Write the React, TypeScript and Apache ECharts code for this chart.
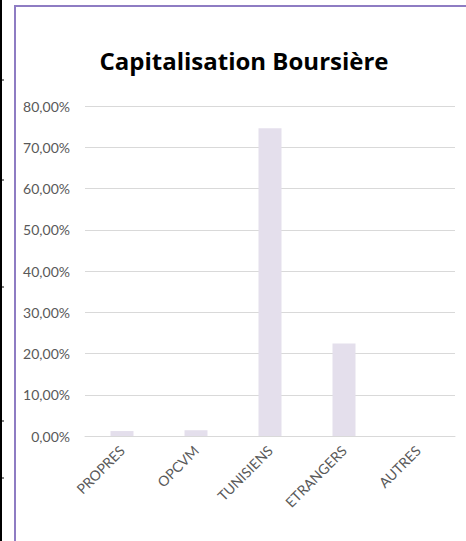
import React, { useEffect, useRef } from "react";
import * as echarts from "echarts";

const categories = ["PROPRES", "OPCVM", "TUNISIENS", "ETRANGERS", "AUTRES"];
const values = [0.012, 0.014, 0.746, 0.224, 0.0];
const titleText = "Capitalisation Boursière";
const leftTicksY = [80, 180, 287, 421, 478];

const FONT = "Lato, 'Open Sans', sans-serif";
const TITLE_FONT = "'Open Sans', sans-serif";

export default function App() {
  const ref = useRef<HTMLDivElement>(null);
  useEffect(() => {
    if (!ref.current) return;
    const chart = echarts.init(ref.current, undefined, { renderer: "svg" });
    const graphics: any[] = [
      { type: "line", shape: { x1: 1, y1: 0, x2: 1, y2: 541 }, style: { stroke: "#000", lineWidth: 2 } },
      { type: "line", shape: { x1: 15, y1: 6, x2: 466, y2: 6 }, style: { stroke: "#8e7cc3", lineWidth: 2 } },
      { type: "line", shape: { x1: 15, y1: 5, x2: 15, y2: 541 }, style: { stroke: "#8e7cc3", lineWidth: 2 } },
      ...leftTicksY.map((y) => ({
        type: "line",
        shape: { x1: 1, y1: y, x2: 4, y2: y },
        style: { stroke: "#000", lineWidth: 1 },
      })),
    ];
    chart.setOption({
      animation: false,
      backgroundColor: "#fff",
      title: {
        text: titleText,
        left: 239,
        textAlign: "center",
        top: 43,
        textStyle: { fontFamily: TITLE_FONT, fontWeight: "bold", fontSize: 24, color: "#000" },
      },
      graphic: graphics,
      grid: { left: 85, right: 11, top: 106, bottom: 105 },
      xAxis: {
        type: "category",
        data: categories,
        axisLine: { show: true, lineStyle: { color: "#d9d9d9", width: 1 } },
        axisTick: { show: false },
        axisLabel: {
          rotate: 45,
          interval: 0,
          color: "#595959",
          fontFamily: FONT,
          fontSize: 14,
          margin: 12,
        },
      },
      yAxis: {
        type: "value",
        min: 0,
        max: 0.8,
        interval: 0.1,
        axisLine: { show: false },
        axisTick: { show: false },
        splitLine: { lineStyle: { color: "#d9d9d9", width: 1 } },
        axisLabel: {
          color: "#595959",
          fontFamily: FONT,
          fontSize: 14,
          margin: 15,
          formatter: (v: number) => (v * 100).toFixed(2).replace(".", ",") + "%",
        },
      },
      series: [
        {
          type: "bar",
          data: values,
          barWidth: 23,
          itemStyle: { color: "#e4dfec" },
        },
      ],
    });
    return () => chart.dispose();
  }, []);
  return <div ref={ref} style={{ position: "absolute", left: 0, top: 0, width: 466, height: 541 }} />;
}
